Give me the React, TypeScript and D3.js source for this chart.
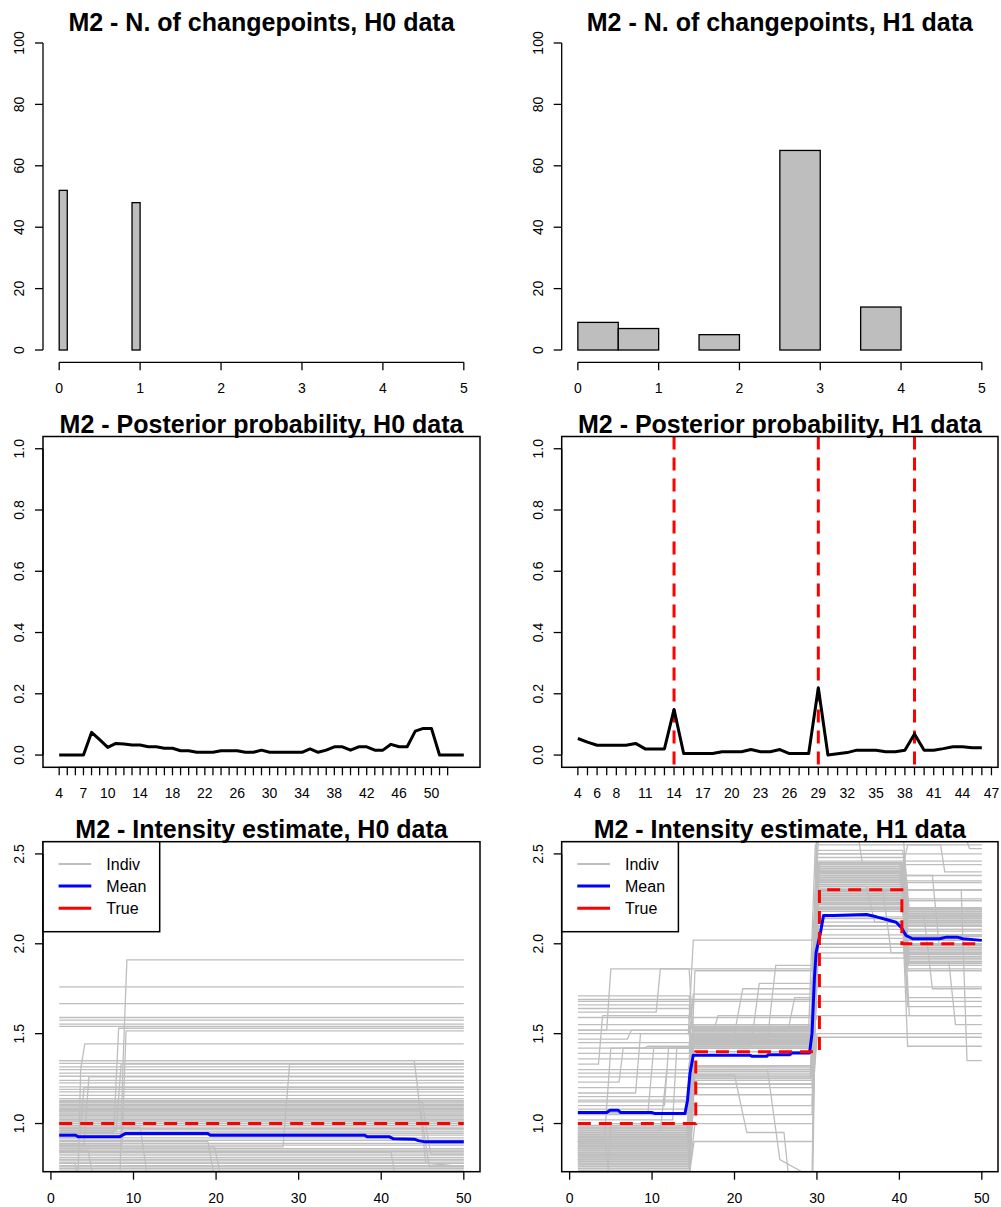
import React from "react";
import * as d3 from "d3";

// ---------- DATA ----------
// Histograms: number of changepoints
const histBreaksH0 = [0, 0.1, 0.2, 0.3, 0.4, 0.5, 0.6, 0.7, 0.8, 0.9, 1.0];
const histCountsH0 = [52, 0, 0, 0, 0, 0, 0, 0, 0, 48];
const histBreaksH1 = [0, 0.5, 1, 1.5, 2, 2.5, 3, 3.5, 4];
const histCountsH1 = [9, 7, 0, 5, 0, 65, 0, 14];
const histXTicks = [0, 1, 2, 3, 4, 5];
const histYTicks = [0, 20, 40, 60, 80, 100];

// Posterior probability
const postH0 = [
  0, 0, 0, 0, 0.074, 0.05, 0.025, 0.038, 0.036, 0.033, 0.033, 0.027, 0.027, 0.022, 0.022, 0.014, 0.014,
  0.009, 0.009, 0.009, 0.014, 0.014, 0.014, 0.009, 0.009, 0.016, 0.009, 0.009, 0.009, 0.009, 0.009, 0.02,
  0.009, 0.016, 0.027, 0.027, 0.016, 0.027, 0.027, 0.016, 0.016, 0.035, 0.027, 0.027, 0.078, 0.087, 0.087,
  0, 0, 0, 0,
];
const postH0TickLabels = [
  4, 5, 6, 7, 8, 9, 10, 11, 12, 13, 14, 15, 16, 17, 18, 19, 20, 21, 22, 23, 24, 25, 26, 27, 28, 29, 30, 31,
  32, 33, 34, 35, 36, 37, 38, 39, 40, 41, 42, 43, 44, 45, 46, 47, 48, 49, 50, 51, 52,
];
const postH0ShownLabels = [4, 7, 10, 14, 18, 22, 26, 30, 34, 38, 42, 46, 50];

const postH1 = [
  0.054, 0.042, 0.032, 0.032, 0.032, 0.032, 0.038, 0.02, 0.02, 0.02, 0.149, 0.005, 0.005, 0.005, 0.005,
  0.011, 0.011, 0.011, 0.018, 0.011, 0.011, 0.018, 0.005, 0.005, 0.005, 0.22, 0.0, 0.004, 0.008, 0.016,
  0.016, 0.016, 0.011, 0.011, 0.016, 0.069, 0.016, 0.016, 0.021, 0.027, 0.027, 0.024, 0.024,
];
const postH1TickLabels = [
  4, 5, 6, 7, 8, 9, 10, 11, 12, 13, 14, 15, 16, 17, 18, 19, 20, 21, 22, 23, 24, 25, 26, 27, 28, 29, 30, 31,
  32, 33, 34, 35, 36, 37, 38, 39, 40, 41, 42, 43, 44, 45, 46, 47,
];
const postH1ShownLabels = [4, 6, 8, 11, 14, 17, 20, 23, 26, 29, 32, 35, 38, 41, 44, 47];
const postH1TrueChangepoints = [14, 29, 39];
const postYTicks = [0, 0.2, 0.4, 0.6, 0.8, 1.0];

// Intensity estimates
const intXTicks = [0, 10, 20, 30, 40, 50];
const intYTicks = [1.0, 1.5, 2.0, 2.5];
const legendLabels = ["Indiv", "Mean", "True"];

const meanH0 = [
  1, 0.935, 3, 0.935, 3.3, 0.926, 8.3, 0.926, 9, 0.944, 19, 0.944, 19.3, 0.935, 38, 0.935, 38.3, 0.926,
  41, 0.926, 41.5, 0.915, 44, 0.913, 44.5, 0.905, 45.3, 0.898, 50, 0.898,
];
const trueH0 = [1, 1.0, 50, 1.0];
const indivH0Flat = [
  1.76, 1.667, 1.59, 1.575, 1.553, 1.54, 1.35, 1.335, 1.315, 1.3, 1.28, 1.263, 1.24, 1.226, 1.204, 1.19,
  1.176, 1.157, 1.139, 1.128, 1.12, 1.115, 1.107, 1.1, 1.093, 1.085, 1.078, 1.07, 1.065, 1.058, 1.052,
  1.045, 1.037, 1.03, 1.022, 1.015, 1.009, 1.0, 0.99, 0.98, 0.972, 0.965, 0.954, 0.945, 0.935, 0.92,
  0.907, 0.89, 0.88, 0.86, 0.852, 0.845, 0.837, 0.825, 0.811, 0.8, 0.796, 0.785, 0.778, 0.765, 0.759,
  0.75, 0.741,
];
const indivH0Steps = [
  [1, 0.6, 8.3, 0.6, 8.7, 1.3, 9.2, 1.91, 50, 1.91],
  [1, 0.95, 7.6, 0.95, 8.2, 1.53, 50, 1.53],
  [1, 0.88, 8.6, 0.88, 9.1, 1.515, 50, 1.515],
  [1, 0.7, 3.3, 0.73, 3.6, 1.3, 4.1, 1.443, 50, 1.443],
  [1, 0.87, 28.1, 0.87, 28.9, 1.33, 50, 1.33],
  [1, 1.35, 44.0, 1.35, 44.4, 1.2, 45.4, 0.78, 50, 0.76],
  [1, 0.88, 4.0, 0.88, 4.6, 1.26, 50, 1.26],
  [1, 0.9, 19.0, 0.9, 19.8, 0.7, 50, 0.7],
  [1, 0.87, 19.8, 0.87, 20.6, 0.7, 50, 0.7],
  [1, 0.98, 10.8, 0.98, 11.7, 0.7, 50, 0.7],
  [1, 0.85, 4.5, 0.85, 5.1, 0.7, 50, 0.7],
  [1, 0.84, 41.2, 0.84, 41.7, 0.7, 50, 0.7],
  [1, 1.07, 44.8, 1.07, 45.8, 0.76, 50, 0.76],
  [1, 1.12, 45.0, 1.12, 45.5, 0.96, 46, 0.83, 50, 0.83],
  [1, 0.78, 2.9, 0.78, 3.3, 0.7, 50, 0.7],
  [1, 0.96, 7.9, 0.96, 8.5, 1.33, 50, 1.33],
  [1, 0.92, 3.5, 0.92, 4.0, 1.2, 50, 1.2],
];

const meanH1 = [
  1, 1.061, 4.5, 1.061, 4.9, 1.074, 5.9, 1.074, 6.2, 1.061, 10, 1.061, 10.3, 1.056, 14, 1.056, 14.3, 1.13,
  14.6, 1.28, 15, 1.38, 21.9, 1.38, 22.1, 1.374, 23.9, 1.374, 24.1, 1.383, 26.7, 1.383, 27, 1.393, 29.1,
  1.393, 29.4, 1.5, 29.7, 1.815, 29.9, 1.954, 30.4, 2.056, 30.8, 2.157, 32, 2.157, 36, 2.163, 37.2, 2.15,
  38.4, 2.135, 39.6, 2.12, 40.2, 2.093, 40.8, 2.046, 41.6, 2.028, 44.9, 2.028, 45.7, 2.037, 47, 2.037,
  47.7, 2.028, 50, 2.019,
];
const trueH1 = [1, 1, 15.3, 1, 15.3, 1.4, 30.3, 1.4, 30.3, 2.3, 40.3, 2.3, 40.3, 2.0, 50, 2.0];
const indivH1 = [
  [1, 0.95, 14.3, 0.95, 14.9, 1.45, 29.3, 1.45, 30, 2.4, 40.3, 2.4, 41, 2.15, 50, 2.15],
  [1, 0.9, 14.3, 0.9, 14.9, 1.5, 29.3, 1.5, 30, 2.3, 40.3, 2.3, 41, 1.95, 50, 1.95],
  [1, 0.85, 14.4, 0.85, 15, 1.47, 29.4, 1.47, 30, 2.25, 40.5, 2.25, 41, 2.0, 50, 2.0],
  [1, 0.98, 14.3, 0.98, 14.9, 1.52, 29.2, 1.52, 30, 2.42, 40.3, 2.42, 41, 2.18, 50, 2.18],
  [1, 0.8, 14.5, 0.8, 15, 1.43, 29.4, 1.43, 30.1, 2.35, 40.3, 2.35, 41.2, 1.9, 50, 1.9],
  [1, 0.92, 14.2, 0.92, 14.8, 1.49, 29.3, 1.49, 30, 2.2, 40.6, 2.2, 41.2, 1.93, 50, 1.93],
  [1, 0.88, 14.4, 0.88, 15, 1.55, 29.5, 1.55, 30.2, 2.45, 40.2, 2.45, 40.9, 2.1, 50, 2.1],
  [1, 0.78, 14.5, 0.78, 15, 1.3, 29.4, 1.3, 30, 2.18, 40.4, 2.18, 41, 1.97, 50, 1.97],
  [1, 0.83, 14.4, 0.83, 15, 1.27, 29.3, 1.27, 30, 2.05, 50, 2.05],
  [1, 0.96, 14.3, 0.96, 14.9, 1.25, 29.2, 1.25, 29.9, 2.28, 40.3, 2.28, 41, 2.2, 50, 2.2],
  [1, 0.75, 14.5, 0.75, 15.1, 1.22, 29.5, 1.22, 30.2, 2.0, 50, 2.0],
  [1, 0.87, 14.5, 0.87, 15, 1.45, 29.4, 1.45, 30, 2.32, 40.4, 2.32, 41, 2.17, 50, 2.17],
  [1, 0.93, 14.4, 0.93, 15, 1.5, 29.3, 1.5, 30, 2.38, 40.5, 2.38, 41.1, 1.88, 50, 1.88],
  [1, 0.97, 14.4, 0.97, 15, 1.44, 29.3, 1.44, 30, 2.22, 40.5, 2.22, 41, 2.02, 50, 2.02],
  [1, 0.82, 14.4, 0.82, 15, 1.53, 29.4, 1.53, 30.1, 2.14, 50, 2.14],
  [1, 0.9, 14.5, 0.9, 15, 1.48, 29.6, 1.48, 30.3, 2.45, 40.2, 2.45, 40.8, 1.92, 50, 1.92],
  [1, 0.86, 14.4, 0.86, 15, 1.4, 29.3, 1.4, 30, 2.1, 40.5, 2.1, 41, 1.95, 50, 1.95],
  [1, 0.79, 14.5, 0.79, 15, 1.32, 29.5, 1.32, 30.1, 2.26, 40.4, 2.26, 41, 2.16, 50, 2.16],
  [1, 1.71, 14.5, 1.71, 15, 1.5, 29.5, 1.5, 30, 2.4, 40, 2.4, 41, 2.0, 50, 2.0],
  [1, 1.69, 29.4, 1.69, 30, 2.4, 40.4, 2.4, 41, 2.08, 50, 2.08],
  [1, 1.68, 29.5, 1.68, 30.1, 2.22, 40.5, 2.22, 41, 2.12, 50, 2.12],
  [1, 1.66, 14.5, 1.66, 15, 1.52, 29.5, 1.52, 30.1, 2.35, 50, 2.35],
  [1, 1.62, 10.5, 1.62, 11, 1.86, 29.5, 1.86, 30.1, 2.45, 40, 2.45, 41, 2.2, 50, 2.2],
  [1, 1.59, 29.5, 1.59, 30, 2.5, 40.6, 2.5, 41.2, 2.18, 50, 2.18],
  [1, 1.52, 4.5, 1.52, 5, 1.86, 14.5, 1.86, 15, 1.45, 29.3, 1.45, 30, 2.3, 50, 2.3],
  [1, 1.5, 14.4, 1.5, 15, 2.02, 29.5, 2.02, 30.2, 2.6, 50, 2.6],
  [1, 1.47, 7, 1.47, 7.5, 1.52, 14.5, 1.52, 15, 1.46, 29.5, 1.46, 30, 2.28, 40.4, 2.28, 41, 1.9, 50, 1.9],
  [1, 1.42, 9, 1.42, 9.5, 1.43, 14.5, 1.43, 15, 1.72, 29.5, 1.72, 30, 2.38, 50, 2.38],
  [1, 1.39, 14.5, 1.39, 15, 1.55, 29.5, 1.55, 30, 2.24, 40.4, 2.24, 41, 1.98, 50, 1.98],
  [1, 1.33, 3.5, 1.33, 4, 1.6, 14.4, 1.6, 15, 1.5, 29.4, 1.5, 30, 2.22, 40.3, 2.22, 41.2, 2.15, 50, 2.15],
  [1, 1.3, 14.5, 1.3, 15, 1.53, 29, 1.53, 29.8, 2.55, 50, 2.55],
  [1, 1.26, 14.5, 1.26, 15, 1.48, 29.5, 1.48, 30.2, 2.1, 40.5, 2.1, 41, 1.65, 50, 1.65],
  [1, 1.23, 6, 1.23, 6.5, 1.42, 14.5, 1.42, 15, 1.32, 29.5, 1.32, 30, 2.43, 40.3, 2.43, 41, 2.17, 50, 2.17],
  [1, 1.2, 14.5, 1.2, 15.1, 1.46, 29.5, 1.46, 30.2, 1.95, 50, 1.95],
  [1, 1.17, 8, 1.17, 8.6, 1.5, 14.5, 1.5, 15, 1.28, 29.2, 1.28, 30, 2.0, 40.5, 2.0, 41, 1.7, 50, 1.7],
  [1, 1.13, 14.5, 1.13, 15, 1.45, 29.4, 1.45, 30, 1.76, 50, 1.76],
  [1, 1.1, 11.5, 1.1, 12, 1.42, 29.5, 1.42, 30, 2.25, 40.5, 2.25, 41, 2.05, 50, 2.05],
  [1, 1.08, 14.4, 1.08, 15, 1.22, 29.5, 1.22, 30, 1.5, 50, 1.5],
  [1, 1.05, 14.5, 1.05, 15, 1.46, 29.4, 1.46, 30, 2.3, 40.3, 2.3, 41, 2.16, 50, 2.16],
  [1, 1.02, 12.5, 1.02, 13, 1.42, 29.5, 1.42, 30.1, 2.4, 40.5, 2.4, 41, 1.95, 50, 1.95],
  [1, 0.76, 14.6, 0.76, 15.2, 1.0, 29.5, 1.0, 30, 2.1, 50, 2.1],
  [1, 0.8, 14.6, 0.8, 15.2, 1.27, 20, 1.27, 21.5, 0.95, 26, 0.95, 26.5, 0.73, 29.5, 0.7, 30, 2.25, 50, 2.25],
  [1, 0.84, 14.5, 0.84, 15, 1.3, 24, 1.3, 25.5, 0.8, 29.4, 0.7, 30, 2.3, 40.4, 2.3, 41, 1.9, 50, 1.9],
  [1, 0.73, 14.6, 0.73, 15, 1.16, 29.5, 1.16, 30, 1.48, 50, 1.48],
  [1, 0.9, 4.2, 0.9, 5, 1.42, 14.5, 1.42, 15, 1.5, 29.4, 1.5, 30, 2.34, 50, 2.34],
  [1, 1.06, 9.5, 1.06, 10.2, 1.42, 29.5, 1.42, 30, 2.2, 40.3, 2.2, 41, 2.1, 50, 2.1],
  [1, 0.96, 11, 0.96, 11.8, 1.3, 14.4, 1.3, 15, 1.49, 29.5, 1.49, 30, 2.48, 40.5, 2.48, 41, 2.2, 50, 2.2],
  [1, 0.89, 14.5, 0.89, 15, 1.5, 20, 1.5, 21, 1.75, 29.4, 1.75, 30, 2.3, 50, 2.3],
  [1, 0.94, 14.4, 0.94, 15, 1.47, 24, 1.47, 25, 1.88, 29.5, 1.88, 30, 2.42, 40.4, 2.42, 41, 2.05, 50, 2.05],
  [1, 0.81, 14.5, 0.81, 15, 1.52, 26.5, 1.52, 27.3, 1.7, 29.4, 1.7, 30, 2.5, 50, 2.5],
  [1, 0.91, 14.4, 0.91, 15, 1.43, 22, 1.43, 23, 1.78, 29.4, 1.78, 30, 2.2, 40.3, 2.2, 41, 2.13, 50, 2.13],
  [1, 0.99, 14.5, 0.99, 15.2, 1.85, 29.4, 1.85, 30, 2.46, 50, 2.46],
  [1, 0.77, 14.5, 0.77, 15, 1.52, 17.5, 1.52, 18, 1.6, 29.5, 1.6, 30, 2.0, 50, 2.0],
  [1, 0.88, 14.4, 0.88, 15, 1.46, 29.3, 1.46, 30, 2.6, 35, 2.6, 35.5, 2.45, 40.5, 2.45, 41, 2.0, 50, 2.0],
  [1, 0.92, 14.4, 0.92, 15, 1.5, 29.4, 1.5, 30, 2.38, 44, 2.38, 44.8, 2.0, 50, 2.0],
  [1, 0.85, 14.5, 0.85, 15, 1.45, 29.4, 1.45, 30, 2.3, 38, 2.3, 39, 1.95, 50, 1.95],
  [1, 0.95, 14.4, 0.95, 15, 1.4, 29.4, 1.4, 30, 2.22, 40.5, 2.22, 41, 2.3, 47.5, 2.3, 48.2, 1.35, 50, 1.35],
  [1, 0.9, 14.4, 0.9, 15, 1.48, 29.3, 1.48, 30, 2.12, 40.4, 2.12, 41, 1.43, 50, 1.43],
  [1, 0.82, 14.4, 0.82, 15, 1.5, 29.4, 1.5, 30, 2.4, 40.3, 2.4, 41, 2.55, 45, 2.55, 45.5, 2.4, 50, 2.4],
  [1, 0.87, 14.5, 0.87, 15, 1.44, 29.4, 1.44, 30, 2.7, 40.3, 2.7, 41, 2.6, 48, 2.6, 48.5, 2.53, 50, 2.53],
  [1, 0.93, 14.5, 0.93, 15, 1.52, 29.4, 1.52, 30, 2.33, 40.5, 2.33, 41, 1.9, 46, 1.9, 46.8, 1.55, 50, 1.55],
  [1, 0.8, 14.5, 0.8, 15, 1.45, 29.4, 1.45, 30, 2.15, 40.6, 2.15, 41.2, 1.6, 50, 1.6],
  [1, 0.97, 14.4, 0.97, 15, 1.54, 29.5, 1.54, 30, 2.08, 40.5, 2.08, 41, 2.2, 50, 2.2],
  [1, 0.86, 14.4, 0.86, 15, 1.46, 29.5, 1.46, 30, 1.68, 50, 1.68],
  [1, 0.9, 14.5, 0.9, 15, 1.5, 29.4, 1.5, 30, 1.6, 50, 1.6],
  [1, 0.78, 14.5, 0.78, 15, 1.26, 29.4, 1.26, 30, 2.35, 40.5, 2.35, 41, 1.85, 50, 1.85],
  [1, 0.84, 14.5, 0.84, 15, 1.48, 29.4, 1.48, 30, 2.32, 36, 2.32, 37, 2.12, 50, 2.12],
  [1, 0.94, 14.4, 0.94, 15, 1.5, 29.4, 1.5, 30, 2.28, 40.5, 2.28, 41, 2.15, 43, 2.15, 44, 1.75, 50, 1.75],
  [1, 0.83, 14.5, 0.83, 15, 1.45, 29.3, 1.45, 30, 2.45, 40.4, 2.45, 41, 2.02, 50, 2.02],
  [1, 0.76, 14.5, 0.76, 15.1, 1.2, 29.4, 1.2, 30, 1.92, 50, 1.92],
  [1, 0.74, 14.6, 0.74, 15.1, 0.9, 29.5, 0.9, 30.1, 2.23, 40.5, 2.23, 41, 2.05, 50, 2.05],
  [1, 0.9, 4.3, 0.9, 4.8, 0.7, 14.5, 0.7, 15, 1.48, 29.4, 1.48, 30, 2.3, 50, 2.3],
  [1, 0.6, 4.5, 0.6, 5, 1.0, 14.5, 1.0, 15, 1.5, 29.4, 1.5, 30, 2.36, 40.4, 2.36, 41, 2.1, 50, 2.1],
  [1, 0.81, 14.4, 0.81, 15, 1.51, 29.4, 1.51, 30, 2.27, 40.4, 2.27, 41, 2.14, 50, 2.14],
  [1, 0.86, 14.5, 0.86, 15, 1.44, 29.5, 1.44, 30, 2.37, 40.3, 2.37, 41, 1.99, 50, 1.99],
  [1, 0.92, 14.4, 0.92, 15, 1.47, 29.4, 1.47, 30, 2.41, 40.4, 2.41, 41, 2.19, 50, 2.19],
  [1, 0.79, 14.5, 0.79, 15, 1.53, 29.4, 1.53, 30, 2.29, 40.5, 2.29, 41, 1.94, 50, 1.94],
  [1, 0.95, 14.4, 0.95, 15, 1.49, 29.3, 1.49, 30, 2.44, 40.4, 2.44, 41, 2.12, 50, 2.12],
  [1, 0.84, 14.5, 0.84, 15, 1.46, 29.4, 1.46, 30, 2.21, 40.5, 2.21, 41, 1.91, 50, 1.91],
  [1, 0.89, 14.4, 0.89, 15, 1.51, 29.4, 1.51, 30, 2.36, 40.4, 2.36, 41, 2.04, 50, 2.04],
  [1, 0.77, 14.5, 0.77, 15, 1.43, 29.4, 1.43, 30, 2.26, 40.3, 2.26, 41, 2.19, 50, 2.19],
  [1, 0.98, 14.4, 0.98, 15, 1.54, 29.5, 1.54, 30, 2.39, 40.4, 2.39, 41, 1.97, 50, 1.97],
  [1, 0.83, 14.5, 0.83, 15, 1.48, 29.3, 1.48, 30, 2.31, 40.5, 2.31, 41, 2.15, 50, 2.15],
  [1, 0.91, 14.4, 0.91, 15, 1.45, 29.4, 1.45, 30, 2.19, 40.4, 2.19, 41, 1.89, 50, 1.89],
  [1, 0.8, 14.5, 0.8, 15, 1.5, 29.4, 1.5, 30, 2.42, 40.3, 2.42, 41, 2.08, 50, 2.08],
  [1, 1.45, 14.5, 1.45, 15, 1.47, 29.4, 1.47, 30, 2.33, 40.4, 2.33, 41, 2.0, 50, 2.0],
  [1, 1.36, 14.5, 1.36, 15, 1.52, 29.4, 1.52, 30, 2.24, 50, 2.24],
  [1, 1.28, 14.5, 1.28, 15, 1.44, 29.4, 1.44, 30, 2.4, 40.4, 2.4, 41, 2.14, 50, 2.14],
  [1, 1.15, 14.5, 1.15, 15, 1.5, 29.4, 1.5, 30, 2.27, 40.5, 2.27, 41, 1.96, 50, 1.96],
  [1, 1.12, 14.5, 1.12, 15, 1.26, 29.4, 1.26, 30, 2.2, 40.4, 2.2, 41, 2.02, 50, 2.02],
  [1, 1.55, 14.5, 1.55, 15, 1.29, 29.4, 1.29, 30, 2.37, 40.5, 2.37, 41, 2.16, 50, 2.16],
  [1, 1.52, 14.5, 1.52, 15, 1.45, 29.4, 1.45, 30, 2.1, 50, 2.1],
  [1, 1.64, 14.5, 1.64, 15, 1.53, 29.5, 1.53, 30, 2.44, 50, 2.44],
  [1, 1.06, 14.5, 1.06, 15, 1.49, 29.4, 1.49, 30, 2.3, 40.4, 2.3, 41, 2.07, 50, 2.07],
  [1, 0.88, 14.5, 0.88, 15, 1.24, 29.4, 1.24, 30, 2.23, 40.4, 2.23, 41, 2.0, 50, 2.0],
  [1, 0.93, 14.5, 0.93, 15, 1.29, 29.4, 1.29, 30, 2.41, 40.4, 2.41, 41, 2.11, 50, 2.11],
  [1, 0.82, 14.5, 0.82, 15, 1.31, 29.4, 1.31, 30, 1.98, 50, 1.98],
  [1, 0.87, 14.5, 0.87, 15, 1.1, 29.4, 1.1, 30, 2.18, 50, 2.18],
  [1, 0.94, 14.5, 0.94, 15, 1.05, 29.4, 1.05, 30, 2.03, 40.5, 2.03, 41, 1.86, 50, 1.86],
  [1, 0.86, 14.5, 0.86, 15, 1.5, 29.4, 1.5, 30, 2.65, 40.4, 2.65, 41, 2.24, 50, 2.24],
  [1, 0.9, 14.5, 0.9, 15, 1.47, 29.4, 1.47, 30, 2.52, 40.4, 2.52, 41, 2.3, 50, 2.3],
];

// ---------- STYLE / LAYOUT ----------
const FONT = "'Liberation Sans', Arial, Helvetica, sans-serif";
const TITLE_SIZE = 25;
const TICK_SIZE = 14;
const LEGEND_SIZE = 16;
const GREY = "#BEBEBE";
const DASH = "13 8";
const COLS = [
  { l: 43, r: 480 },
  { l: 561.7, r: 998 },
];
const ROW_HIST = { top: 30.7, bottom: 362.3 };
const ROW_POST = { top: 436.5, bottom: 767.3 };
const ROW_INT = { top: 841.7, bottom: 1171.7 };
const TICK_LEN = 8;

const toPairs = (a: number[]): [number, number][] => {
  const out: [number, number][] = [];
  for (let i = 0; i + 1 < a.length; i += 2) out.push([a[i], a[i + 1]]);
  return out;
};

function YAxis({ x, y, ticks, fmt }: { x: number; y: d3.ScaleLinear<number, number>; ticks: number[]; fmt: (v: number) => string }) {
  return (
    <g>
      <line x1={x} x2={x} y1={y(ticks[0])} y2={y(ticks[ticks.length - 1])} stroke="#000" strokeWidth={1.3} />
      {ticks.map((t) => (
        <g key={t}>
          <line x1={x - TICK_LEN} x2={x} y1={y(t)} y2={y(t)} stroke="#000" strokeWidth={1.3} />
          <text
            transform={`translate(${x - 19},${y(t)}) rotate(-90)`}
            textAnchor="middle"
            fontSize={TICK_SIZE}
            fill="#000"
          >
            {fmt(t)}
          </text>
        </g>
      ))}
    </g>
  );
}

function XAxis({ yPos, x, ticks, labels }: { yPos: number; x: (v: number) => number; ticks: number[]; labels: (string | null)[] }) {
  return (
    <g>
      <line x1={x(ticks[0])} x2={x(ticks[ticks.length - 1])} y1={yPos} y2={yPos} stroke="#000" strokeWidth={1.3} />
      {ticks.map((t, i) => (
        <g key={i}>
          <line x1={x(t)} x2={x(t)} y1={yPos} y2={yPos + TICK_LEN} stroke="#000" strokeWidth={1.3} />
          {labels[i] !== null && (
            <text x={x(t)} y={yPos + 31} textAnchor="middle" fontSize={TICK_SIZE} fill="#000">
              {labels[i]}
            </text>
          )}
        </g>
      ))}
    </g>
  );
}

function Title({ cx, y, text }: { cx: number; y: number; text: string }) {
  return (
    <text x={cx} y={y} textAnchor="middle" fontSize={TITLE_SIZE} fontWeight="bold" fill="#000">
      {text}
    </text>
  );
}

function HistPanel({ col, breaks, counts, title }: { col: { l: number; r: number }; breaks: number[]; counts: number[]; title: string }) {
  const x = d3.scaleLinear().domain([-0.2, 5.2]).range([col.l, col.r]);
  const y = d3.scaleLinear().domain([-4, 104]).range([ROW_HIST.bottom, ROW_HIST.top]);
  return (
    <g>
      <Title cx={(col.l + col.r) / 2} y={ROW_HIST.top} text={title} />
      {counts.map((c, i) => (
        <rect
          key={i}
          x={x(breaks[i])}
          y={y(c)}
          width={x(breaks[i + 1]) - x(breaks[i])}
          height={y(0) - y(c)}
          fill={GREY}
          stroke="#000"
          strokeWidth={1.3}
        />
      ))}
      <XAxis yPos={ROW_HIST.bottom} x={x} ticks={histXTicks} labels={histXTicks.map(String)} />
      <YAxis x={col.l} y={y} ticks={histYTicks} fmt={(v) => String(v)} />
    </g>
  );
}

function PostPanel({
  col,
  values,
  tickLabels,
  shown,
  vlines,
  title,
}: {
  col: { l: number; r: number };
  values: number[];
  tickLabels: number[];
  shown: number[];
  vlines: number[];
  title: string;
}) {
  const n = values.length;
  const pad = 0.04 * (n - 1);
  const x = d3.scaleLinear().domain([1 - pad, n + pad]).range([col.l, col.r]);
  const y = d3.scaleLinear().domain([-0.04, 1.04]).range([ROW_POST.bottom, ROW_POST.top]);
  const first = tickLabels[0];
  const line = d3
    .line<number>()
    .x((_, i) => x(i + 1))
    .y((d) => y(d));
  const tickPos = tickLabels.map((lab) => lab - first + 1);
  return (
    <g>
      <Title cx={(col.l + col.r) / 2} y={ROW_POST.top - 3.5} text={title} />
      {vlines.map((v) => (
        <line
          key={v}
          x1={x(v - first + 1)}
          x2={x(v - first + 1)}
          y1={ROW_POST.top}
          y2={ROW_POST.bottom}
          stroke="#FF0000"
          strokeWidth={3}
          strokeDasharray={DASH}
        />
      ))}
      <path d={line(values) || ""} fill="none" stroke="#000" strokeWidth={3} strokeLinejoin="round" />
      <rect
        x={col.l}
        y={ROW_POST.top}
        width={col.r - col.l}
        height={ROW_POST.bottom - ROW_POST.top}
        fill="none"
        stroke="#000"
        strokeWidth={1.5}
      />
      <XAxis
        yPos={ROW_POST.bottom}
        x={x}
        ticks={tickPos}
        labels={tickLabels.map((lab) => (shown.includes(lab) ? String(lab) : null))}
      />
      <YAxis x={col.l} y={y} ticks={postYTicks} fmt={d3.format(".1f")} />
    </g>
  );
}

function IntensityPanel({
  col,
  flat,
  steps,
  mean,
  truth,
  title,
  id,
}: {
  col: { l: number; r: number };
  flat: number[];
  steps: number[][];
  mean: number[];
  truth: number[];
  title: string;
  id: string;
}) {
  const x = d3.scaleLinear().domain([1 - 0.04 * 49, 50 + 0.04 * 49]).range([col.l, col.r]);
  const y = d3.scaleLinear().domain([0.8 - 0.068, 2.5 + 0.068]).range([ROW_INT.bottom, ROW_INT.top]);
  const line = d3
    .line<[number, number]>()
    .x((d) => x(d[0]))
    .y((d) => y(d[1]));
  const lt = ROW_INT.top;
  const rows = [lt + 22.3, lt + 44.3, lt + 66.6];
  return (
    <g>
      <defs>
        <clipPath id={id}>
          <rect x={col.l} y={ROW_INT.top} width={col.r - col.l} height={ROW_INT.bottom - ROW_INT.top} />
        </clipPath>
      </defs>
      <Title cx={(col.l + col.r) / 2} y={ROW_INT.top - 3.5} text={title} />
      <g clipPath={`url(#${id})`}>
        {flat.map((v, i) => (
          <path key={"f" + i} d={line([[1, v], [50, v]]) || ""} fill="none" stroke={GREY} strokeWidth={1.3} />
        ))}
        {steps.map((s, i) => (
          <path key={"s" + i} d={line(toPairs(s)) || ""} fill="none" stroke={GREY} strokeWidth={1.3} />
        ))}
        <path d={line(toPairs(mean)) || ""} fill="none" stroke="#0000FF" strokeWidth={3} strokeLinejoin="round" />
        <path
          d={line(toPairs(truth)) || ""}
          fill="none"
          stroke="#FF0000"
          strokeWidth={3}
          strokeDasharray={DASH}
        />
      </g>
      <rect
        x={col.l}
        y={ROW_INT.top}
        width={col.r - col.l}
        height={ROW_INT.bottom - ROW_INT.top}
        fill="none"
        stroke="#000"
        strokeWidth={1.5}
      />
      <g>
        <rect x={col.l} y={lt} width={116.7} height={90} fill="#fff" stroke="#000" strokeWidth={1.5} />
        {legendLabels.map((lab, i) => (
          <g key={lab}>
            <line
              x1={col.l + 15.6}
              x2={col.l + 48.3}
              y1={rows[i]}
              y2={rows[i]}
              stroke={i === 0 ? GREY : i === 1 ? "#0000FF" : "#FF0000"}
              strokeWidth={i === 0 ? 2 : 3}
            />
            <text x={col.l + 63.3} y={rows[i]} dy="0.36em" fontSize={LEGEND_SIZE} fill="#000">
              {lab}
            </text>
          </g>
        ))}
      </g>
      <XAxis yPos={ROW_INT.bottom} x={x} ticks={intXTicks} labels={intXTicks.map(String)} />
      <YAxis x={col.l} y={y} ticks={intYTicks} fmt={d3.format(".1f")} />
    </g>
  );
}

export default function App() {
  return (
    <svg
      width={1001}
      height={1207}
      style={{ position: "absolute", left: 0, top: 0, display: "block" }}
      fontFamily={FONT}
    >
      <rect width={1001} height={1207} fill="#fff" />
      <HistPanel col={COLS[0]} breaks={histBreaksH0} counts={histCountsH0} title="M2 - N. of changepoints, H0 data" />
      <HistPanel col={COLS[1]} breaks={histBreaksH1} counts={histCountsH1} title="M2 - N. of changepoints, H1 data" />
      <PostPanel
        col={COLS[0]}
        values={postH0}
        tickLabels={postH0TickLabels}
        shown={postH0ShownLabels}
        vlines={[]}
        title="M2 - Posterior probability, H0 data"
      />
      <PostPanel
        col={COLS[1]}
        values={postH1}
        tickLabels={postH1TickLabels}
        shown={postH1ShownLabels}
        vlines={postH1TrueChangepoints}
        title="M2 - Posterior probability, H1 data"
      />
      <IntensityPanel
        id="clipH0"
        col={COLS[0]}
        flat={indivH0Flat}
        steps={indivH0Steps}
        mean={meanH0}
        truth={trueH0}
        title="M2 - Intensity estimate, H0 data"
      />
      <IntensityPanel
        id="clipH1"
        col={COLS[1]}
        flat={[]}
        steps={indivH1}
        mean={meanH1}
        truth={trueH1}
        title="M2 - Intensity estimate, H1 data"
      />
    </svg>
  );
}
